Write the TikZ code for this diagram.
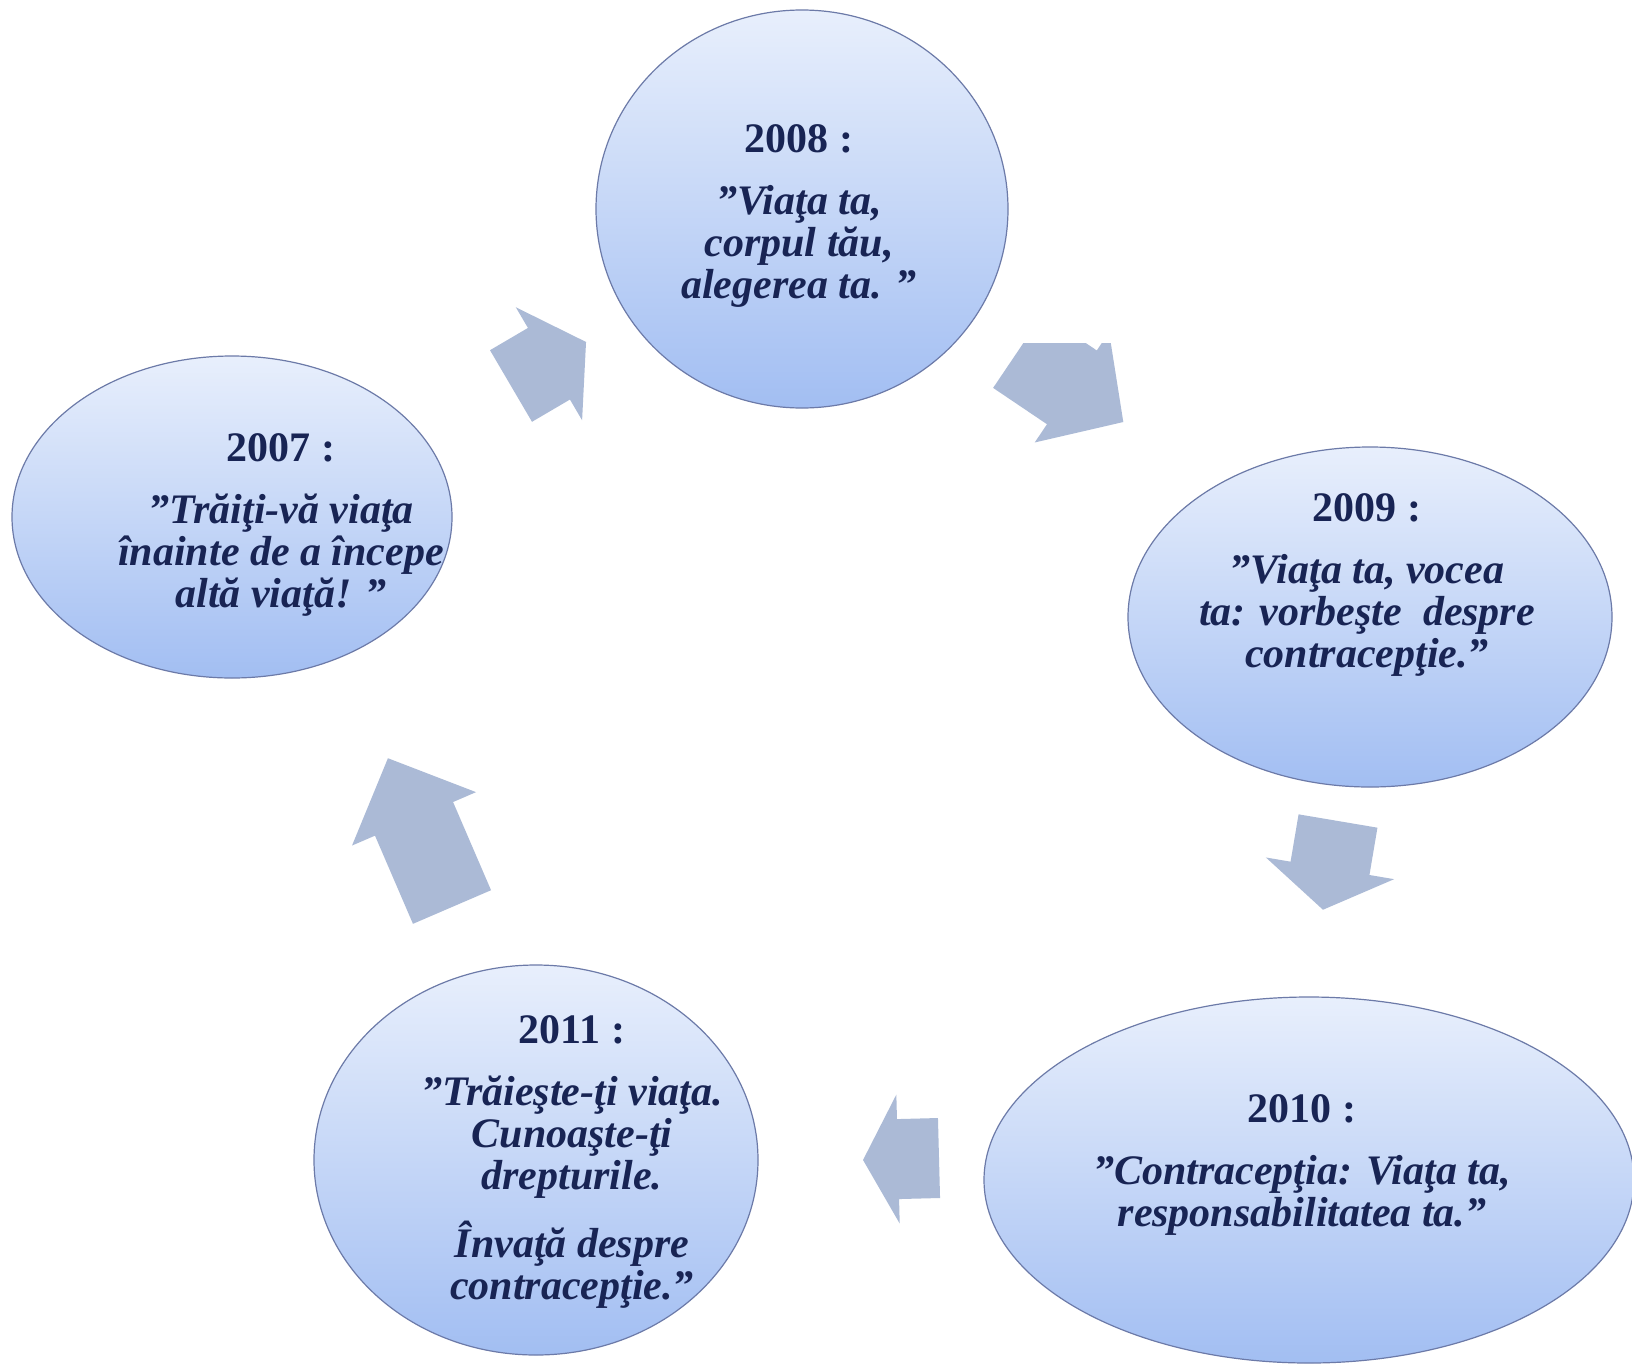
\documentclass[tikz,border=0pt]{standalone}
\usepackage{fontspec}
\setmainfont{Liberation Serif}
\usepackage{tikz}
\usetikzlibrary{shapes,calc}
\definecolor{navyText}{RGB}{24,36,84}
\definecolor{bubbleTop}{RGB}{232,239,252}
\definecolor{bubbleBottom}{RGB}{162,190,242}
\definecolor{bubbleEdge}{RGB}{108,122,168}
\definecolor{arrowGray}{RGB}{171,186,214}
\tikzstyle{bubble}=[ellipse, draw=bubbleEdge, line width=1.2pt,
                    top color=bubbleTop, bottom color=bubbleBottom,
                    inner sep=0pt]
\tikzstyle{quote}=[align=center, text=navyText, inner sep=0pt,
                   font=\fontsize{42}{42}\selectfont\bfseries\itshape]
\tikzstyle{cyclearrow}=[fill=arrowGray]
% year line above each slogan
\newcommand{\yr}[1]{\textup{#1}\\[20pt]}
% x, y, angle, length, head length, shaft half width, head half width
\newcommand{\blockarrow}[7]{%
  \fill[cyclearrow, shift={(#1,#2)}, rotate=#3]
    (0,-#6) -- (#4-#5,-#6) -- (#4-#5,-#7) -- (#4,0)
    -- (#4-#5,#7) -- (#4-#5,#6) -- (0,#6) -- cycle;}

\begin{document}
\begin{tikzpicture}[x=1pt,y=-1pt]
    \useasboundingbox (0,0) rectangle (1632,1365);
    \fill[white] (0,0) rectangle (1632,1365);

    % the five years
    \node[bubble, minimum width=412pt, minimum height=398pt] (e2008) at (802,209) {};
    \node[bubble, minimum width=440pt, minimum height=322pt] (e2007) at (232,517) {};
    \node[bubble, minimum width=484pt, minimum height=340pt] (e2009) at (1370,617) {};
    \node[bubble, minimum width=650pt, minimum height=366pt] (e2010) at (1309,1180) {};
    \node[bubble, minimum width=444pt, minimum height=390pt] (e2011) at (536,1160) {};

    \node[quote] (t2008) at (799,216)
        {\yr{2008 :}”Viaţa ta,\\corpul tău,\\alegerea ta. ”};
    \node[quote] (t2007) at (281,525)
        {\yr{2007 :}”Trăiţi-vă viaţa\\înainte de a începe\\altă viaţă! ”};
    \node[quote] (t2009) at (1367,585)
        {\yr{2009 :}”Viaţa ta, vocea\\ta: vorbeşte\ \ despre\\contracepţie.”};
    \node[quote] (t2010) at (1302,1165)
        {\yr{2010 :}”Contracepţia: Viaţa ta,\\responsabilitatea ta.”};
    \node[quote] (t2011) at (572,1162)
        {\yr{2011 :}”Trăieşte-ţi viaţa.\\Cunoaşte-ţi\\drepturile.\\[22pt]Învaţă despre\\contracepţie.”};

    % arrows of the cycle
    \blockarrow{511}{386}{30.4}{87}{43}{41.5}{65.5}
    \begin{scope}
        \clip (900,343) rectangle (1200,500);
        \blockarrow{1018}{351}{-34}{127}{62}{44.5}{66.5}
    \end{scope}
    \blockarrow{1338}{821}{-99.6}{90}{42}{40}{65}
    \blockarrow{939}{1158}{181.5}{76}{35}{40}{64.5}
    \blockarrow{452}{907}{113.3}{162}{66}{42.5}{67.5}

\end{tikzpicture}
\end{document}
